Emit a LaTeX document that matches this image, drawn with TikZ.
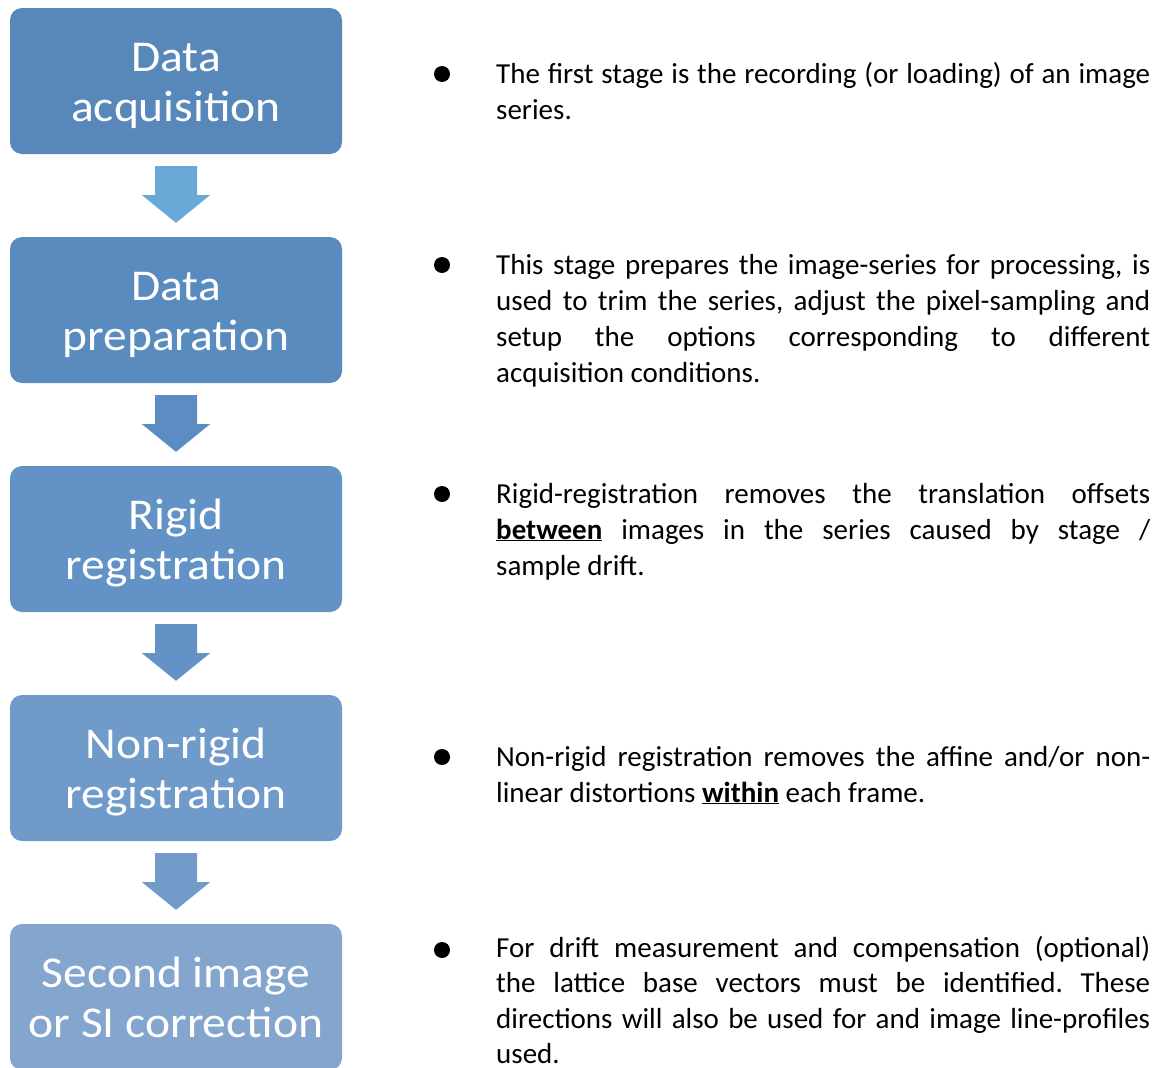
\documentclass[tikz,border=0pt]{standalone}
\usepackage{fontspec}
\setmainfont{Carlito}
\newfontfamily\stagefont{Carlito}[FakeStretch=1.08]
\usetikzlibrary{calc}
\hyphenpenalty=10000
\exhyphenpenalty=10000
\frenchspacing
\definecolor{boxA}{HTML}{5888BA}
\definecolor{boxB}{HTML}{5A8BBE}
\definecolor{boxC}{HTML}{6393C6}
\definecolor{boxD}{HTML}{709ACA}
\definecolor{boxE}{HTML}{84A6CE}
\definecolor{arrA}{HTML}{69A8D7}
\definecolor{arrB}{HTML}{5C8DC2}
\definecolor{arrC}{HTML}{6393C6}
\definecolor{arrD}{HTML}{729BCA}
% two lines of a stage label, with struts so all boxes sit alike
\newcommand\stagelabel[2]{\rule{0pt}{42pt}#1\\#2\rule[-12pt]{0pt}{1pt}}
\begin{document}
\begin{tikzpicture}[x=1pt,y=-1pt,
  stagebox/.style={rounded corners=12pt,minimum width=332pt,minimum height=146pt,
    text=white,align=center,inner sep=0pt,font=\stagefont\fontsize{44}{50}\selectfont},
  note/.style={anchor=base west,text width=654pt,align=justify,inner sep=0pt,
    font=\fontsize{29}{36}\selectfont}]
  \useasboundingbox (0,0) rectangle (1162,1068);
  % stages
  \node[stagebox,fill=boxA] (acq)   at (176,81)  {\stagelabel{Data}{acquisition}};
  \node[stagebox,fill=boxB] (prep)  at (176,310) {\stagelabel{Data}{preparation}};
  \node[stagebox,fill=boxC] (rigid) at (176,539) {\stagelabel{Rigid}{registration}};
  \node[stagebox,fill=boxD] (nonrigid) at (176,768) {\stagelabel{Non-rigid}{registration}};
  \node[stagebox,fill=boxE] (second) at (176,997) {\stagelabel{Second image}{or SI correction}};
  % block arrows between the stages
  \foreach \from/\to/\col in {acq/prep/arrA,prep/rigid/arrB,rigid/nonrigid/arrC,nonrigid/second/arrD}{
    \fill[\col] ($(\from.south)+(-21,12)$) -- ($(\from.south)+(21,12)$)
      -- ($(\from.south)+(21,41)$) -- ($(\from.south)+(34,41)$)
      -- ($(\to.north)+(0,-14)$) -- ($(\from.south)+(-34,41)$)
      -- ($(\from.south)+(-21,41)$) -- cycle;
  }
  % notes
  \node[note] (noteacq) at (496,83) {The first stage is the recording (or loading) of an image\linebreak series.};
  \node[note] (noteprep) at (496,274) {This stage prepares the image-series for processing, is\linebreak used to trim the series, adjust the pixel-sampling and\linebreak setup the options corresponding to different\linebreak acquisition conditions.};
  \node[note] (noterigid) at (496,503) {Rigid-registration removes the translation offsets\linebreak \underline{\textbf{between}} images in the series caused by stage /\linebreak sample drift.};
  \node[note] (notenonrigid) at (496,766) {Non-rigid registration removes the affine and/or non-\linebreak linear distortions \underline{\textbf{within}} each frame.};
  \node[note,font=\fontsize{29}{35.5}\selectfont] (notesecond) at (496,957) {For drift measurement and compensation (optional)\linebreak the lattice base vectors must be identified. These\linebreak directions will also be used for and image line-profiles\linebreak used.};
  % bullets
  \foreach \y in {74,265,494,757,950}
    \fill (442,\y) circle (8);
\end{tikzpicture}
\end{document}
